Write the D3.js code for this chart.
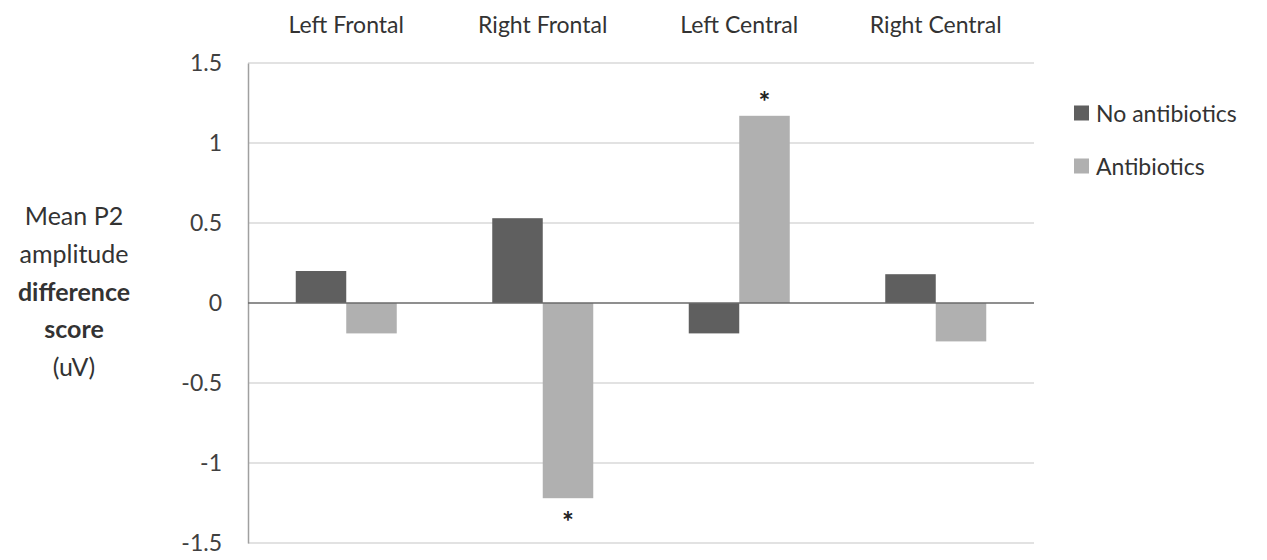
<!DOCTYPE html>
<html>
<head>
<meta charset="utf-8">
<script src="https://cdn.jsdelivr.net/npm/d3@7"></script>
<style>
  body { margin: 0; background: #fff; }
  svg { font-family: Lato, "Open Sans", sans-serif; }
</style>
</head>
<body>
<svg id="chart" width="1267" height="560"></svg>
<script>
const regions = ['Left Frontal', 'Right Frontal', 'Left Central', 'Right Central']
const groups = ['No antibiotics', 'Antibiotics']
const noAntibiotics = [0.2, 0.53, -0.19, 0.18]
const antibiotics = [-0.19, -1.22, 1.17, -0.24]
const yTicks = [1.5, 1, 0.5, 0, -0.5, -1, -1.5]
// asterisks: [region index, group index]
const significant = [[1, 1], [2, 1]]

const colors = ['#5f5f5f', '#b0b0b0']
const series = [noAntibiotics, antibiotics]

const svg = d3.select('#chart')
const margin = { top: 63, right: 233, bottom: 17, left: 248 }
const width = +svg.attr('width')
const height = +svg.attr('height')

const x = d3.scaleBand()
  .domain(regions)
  .range([margin.left, width - margin.right])
  .paddingInner(0.486)
  .paddingOuter(0.243)

const x1 = d3.scaleBand()
  .domain(groups)
  .range([0, x.bandwidth()])

const y = d3.scaleLinear()
  .domain([-1.5, 1.5])
  .range([height - margin.bottom, margin.top])

// gridlines
svg.append('g')
  .selectAll('line')
  .data(yTicks.filter(t => t !== 0))
  .enter()
  .append('line')
  .attr('x1', margin.left)
  .attr('x2', width - margin.right)
  .attr('y1', d => y(d))
  .attr('y2', d => y(d))
  .attr('stroke', '#d9d9d9')
  .attr('stroke-width', 1.5)

// left axis with tick labels
const yAxis = g => g
  .attr('transform', `translate(${margin.left},0)`)
  .call(d3.axisLeft(y).tickValues(yTicks).tickSize(0).tickPadding(26).tickFormat(d => String(d)))
  .call(g => g.select('.domain').attr('stroke', '#a0a0a0').attr('stroke-width', 1.5))
  .call(g => g.selectAll('text')
    .attr('font-size', 23)
    .attr('fill', '#404040')
    .attr('font-family', 'Lato, sans-serif'))

svg.append('g').call(yAxis)

// bars
groups.forEach((grp, gi) => {
  svg.append('g')
    .selectAll('rect')
    .data(series[gi])
    .enter()
    .append('rect')
    .attr('x', (d, i) => x(regions[i]) + x1(grp))
    .attr('y', d => y(Math.max(0, d)))
    .attr('width', x1.bandwidth())
    .attr('height', d => Math.abs(y(d) - y(0)))
    .attr('fill', colors[gi])
})

// zero line
svg.append('line')
  .attr('x1', margin.left)
  .attr('x2', width - margin.right)
  .attr('y1', y(0))
  .attr('y2', y(0))
  .attr('stroke', '#6a6a6a')
  .attr('stroke-width', 1.5)

// asterisks
svg.append('g')
  .selectAll('text')
  .data(significant)
  .enter()
  .append('text')
  .attr('x', d => x(regions[d[0]]) + x1(groups[d[1]]) + x1.bandwidth() / 2)
  .attr('y', d => {
    const v = series[d[1]][d[0]]
    return v > 0 ? y(v) - 4 : y(v) + 34
  })
  .attr('text-anchor', 'middle')
  .attr('font-size', 28)
  .attr('font-weight', 'bold')
  .attr('fill', '#222')
  .text('*')

// region labels on top
svg.append('g')
  .selectAll('text')
  .data(regions)
  .enter()
  .append('text')
  .attr('x', d => x(d) + x.bandwidth() / 2)
  .attr('y', 33)
  .attr('text-anchor', 'middle')
  .attr('font-size', 23)
  .attr('fill', '#333')
  .text(d => d)

// y title
const titleLines = [
  { t: 'Mean P2', bold: false },
  { t: 'amplitude', bold: false },
  { t: 'difference', bold: true },
  { t: 'score', bold: true },
  { t: '(uV)', bold: false }
]
svg.append('g')
  .selectAll('text')
  .data(titleLines)
  .enter()
  .append('text')
  .attr('x', 74)
  .attr('y', (d, i) => 225 + i * 37.8)
  .attr('text-anchor', 'middle')
  .attr('font-size', 25)
  .attr('font-weight', d => d.bold ? 'bold' : 'normal')
  .attr('fill', '#333')
  .text(d => d.t)

// legend
const legend = svg.append('g')
  .selectAll('g')
  .data(groups)
  .enter()
  .append('g')
  .attr('transform', (d, i) => `translate(1074,${113 + i * 53})`)

legend.append('rect')
  .attr('x', 0)
  .attr('y', -7.5)
  .attr('width', 15)
  .attr('height', 15)
  .attr('fill', (d, i) => colors[i])

legend.append('text')
  .attr('x', 22)
  .attr('y', 9)
  .attr('font-size', 23)
  .attr('fill', '#333')
  .text(d => d)
</script>
</body>
</html>
